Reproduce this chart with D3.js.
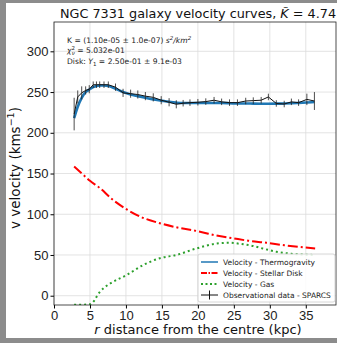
<!DOCTYPE html>
<html>
<head>
<meta charset="UTF-8">
<style>
  body { margin: 0; background: #8c8c8c; }
  svg { display: block; font-family: "DejaVu Sans", sans-serif; }
  .grid line { stroke: #dcdcdc; stroke-width: 0.8px; }
  .tick text { font-size: 13px; fill: #222; }
</style>
</head>
<body>
<svg id="chart" width="337" height="343"></svg>
<script src="https://d3js.org/d3.v7.min.js"></script>
<script>

// observational data - SPARCS
const obsR = [2.8, 3.3, 3.85, 4.4, 4.9, 5.45, 5.9, 6.35, 6.95, 7.55, 8.55, 9.6, 10.65, 11.65, 12.7, 13.8, 14.9, 16.0, 17.0,
              17.95, 18.9, 20.0, 21.1, 22.25, 23.3, 24.4, 25.5, 26.65, 27.7, 28.8, 29.8, 30.9, 32.0, 33.0, 34.0, 35.15, 36.2];
const obsV = [223, 244, 249, 252, 253.5, 259, 259, 259, 259, 259, 256, 249, 248, 247, 245, 243.5, 240, 237.5, 235,
              236.3, 237, 237.5, 238.3, 240, 238, 237, 237, 239, 239.5, 240, 244, 236, 235.3, 238, 237, 241, 239];
const obsErr = [20, 8, 8, 5, 5, 4, 4, 4, 4, 4, 4.5, 5, 5, 5, 5, 5, 5, 5, 5,
                4, 4, 4, 4, 4, 4, 4, 4, 4, 4, 4, 4, 4, 4, 4, 4, 7, 11];

// thermogravity model
const thermoV = [218, 232, 243, 250, 253, 256, 257.5, 258, 258, 257.5, 254, 250, 247, 245, 243, 241, 239.5, 238, 237,
                 236.5, 236.5, 236.5, 236.5, 236.5, 236.5, 236.3, 236, 236, 235.8, 235.7, 235.7, 235.8, 236, 236.3, 236.7, 237.2, 237.8];

// stellar disk
const diskR = [2.8, 4, 5, 6.4, 8, 10.1, 12, 14.7, 17, 20.3, 22.5, 24.9, 27, 29.5, 32, 34, 36.3];
const diskV = [158.5, 149, 141, 132, 119, 106, 97, 89, 84, 78.6, 74, 70.5, 67.5, 65, 62, 60, 58];

// gas
const gasR = [2.8, 4, 5, 5.6, 6.0, 6.4, 7, 7.8, 10.1, 12.4, 14.7, 17, 19.8, 22.6, 24.4, 26, 27.7, 29, 30.9, 33, 36.2];
const gasV = [-11, -11, -10.5, -6, 0, 5, 10, 15, 25.4, 37.7, 46, 50, 58, 64, 65, 63.5, 61, 58, 54, 51.5, 50];

const xTicks = [0, 5, 10, 15, 20, 25, 30, 35];
const yTicks = [0, 50, 100, 150, 200, 250, 300];

const legendLabels = ["Velocity - Thermogravity", "Velocity - Stellar Disk", "Velocity - Gas", "Observational data - SPARCS"];

let svg = d3.select("#chart");

// white figure area on the grey frame
svg.append("rect").attr("x", 6).attr("y", 3).attr("width", 331).attr("height", 335).attr("fill", "white");

let pLeft = 54, pRight = 336, pTop = 22, pBottom = 305;

let x = d3.scaleLinear().domain([0, 39.2]).range([pLeft, pRight]);
let y = d3.scaleLinear().domain([-11.4, 336]).range([pBottom, pTop]);

svg.append("defs").append("clipPath").attr("id", "plotclip")
  .append("rect").attr("x", pLeft).attr("y", pTop).attr("width", pRight - pLeft).attr("height", pBottom - pTop);

// grid
svg.append("g").attr("class", "grid")
  .selectAll("line").data(xTicks).enter().append("line")
  .attr("x1", d => x(d)).attr("x2", d => x(d)).attr("y1", pTop).attr("y2", pBottom);
svg.append("g").attr("class", "grid")
  .selectAll("line").data(yTicks).enter().append("line")
  .attr("y1", d => y(d)).attr("y2", d => y(d)).attr("x1", pLeft).attr("x2", pRight);

// axes
svg.append("g").attr("transform", "translate(0," + pBottom + ")")
  .call(d3.axisBottom(x).tickValues(xTicks).tickSize(3.5).tickPadding(2).tickFormat(d3.format("d")))
  .call(g => g.select(".domain").remove());
svg.append("g").attr("transform", "translate(" + pLeft + ",0)")
  .call(d3.axisLeft(y).tickValues(yTicks).tickSize(3.5).tickPadding(2).tickFormat(d3.format("d")))
  .call(g => g.select(".domain").remove());

let plot = svg.append("g").attr("clip-path", "url(#plotclip)");

let line = d3.line().x(d => x(d[0])).y(d => y(d[1]));
let smooth = d3.line().x(d => x(d[0])).y(d => y(d[1])).curve(d3.curveMonotoneX);

// thermogravity
plot.append("path")
  .datum(obsR.map((r, i) => [r, thermoV[i]]))
  .attr("d", smooth).attr("fill", "none")
  .attr("stroke", "#1f77b4").attr("stroke-width", 2.6);

// stellar disk
plot.append("path")
  .datum(diskR.map((r, i) => [r, diskV[i]]))
  .attr("d", smooth).attr("fill", "none")
  .attr("stroke", "#ff0000").attr("stroke-width", 2)
  .attr("stroke-dasharray", "10,3,2,3");

// gas
plot.append("path")
  .datum(gasR.map((r, i) => [r, gasV[i]]))
  .attr("d", smooth).attr("fill", "none")
  .attr("stroke", "#2ca02c").attr("stroke-width", 2)
  .attr("stroke-dasharray", "2,3");

// observational data with error bars
plot.append("path")
  .datum(obsR.map((r, i) => [r, obsV[i]]))
  .attr("d", line).attr("fill", "none")
  .attr("stroke", "#111").attr("stroke-width", 1);
plot.append("g").selectAll("line").data(obsR).enter().append("line")
  .attr("x1", d => x(d)).attr("x2", d => x(d))
  .attr("y1", (d, i) => y(obsV[i] - obsErr[i]))
  .attr("y2", (d, i) => y(obsV[i] + obsErr[i]))
  .attr("stroke", "#222").attr("stroke-opacity", 0.8).attr("stroke-width", 1);

// frame
svg.append("rect").attr("x", pLeft).attr("y", pTop).attr("width", pRight - pLeft).attr("height", pBottom - pTop)
  .attr("fill", "none").attr("stroke", "#222").attr("stroke-width", 0.8);

// title
let title = svg.append("text").attr("x", 198).attr("y", 18).attr("text-anchor", "middle")
  .attr("font-size", 12.8).attr("fill", "#111");
title.append("tspan").text("NGC 7331 galaxy velocity curves, ");
title.append("tspan").attr("font-style", "italic").text("K\u0303");
title.append("tspan").text(" = 4.74");

// annotation
let ann = svg.append("g").attr("font-size", 7.6).attr("fill", "#222");
let a1 = ann.append("text").attr("x", 67).attr("y", 43);
a1.append("tspan").text("K = (1.10e-05 \u00b1 1.0e-07) ");
a1.append("tspan").attr("font-style", "italic").text("s");
a1.append("tspan").attr("font-size", 5.5).attr("dy", -3).attr("font-style", "italic").text("2");
a1.append("tspan").attr("dy", 3).attr("font-style", "italic").text("/km");
a1.append("tspan").attr("font-size", 5.5).attr("dy", -3).attr("font-style", "italic").text("2");
let a2 = ann.append("text").attr("x", 67).attr("y", 53);
a2.append("tspan").attr("font-style", "italic").text("\u03c7");
a2.append("tspan").attr("font-size", 5.5).attr("dy", -3).text("2");
a2.append("tspan").attr("font-size", 5.5).attr("dx", -3.3).attr("dy", 5).attr("font-style", "italic").text("\u03bd");
a2.append("tspan").attr("dy", -2).text(" = 5.032e-01");
let a3 = ann.append("text").attr("x", 67).attr("y", 64);
a3.append("tspan").text("Disk: ");
a3.append("tspan").attr("font-style", "italic").text("\u03a5");
a3.append("tspan").attr("font-size", 5.5).attr("dy", 2).text("1");
a3.append("tspan").attr("dy", -2).text(" = 2.50e-01 \u00b1 9.1e-03");

// axis labels
let yl = svg.append("text").attr("transform", "translate(20,168) rotate(-90)")
  .attr("text-anchor", "middle").attr("font-size", 13.5).attr("fill", "#111");
yl.append("tspan").text("v velocity (kms");
yl.append("tspan").attr("font-size", 9.5).attr("dy", -6).text("\u22121");
yl.append("tspan").attr("dy", 6).text(")");

let xl = svg.append("text").attr("x", 198).attr("y", 334).attr("text-anchor", "middle")
  .attr("font-size", 13).attr("fill", "#111");
xl.append("tspan").attr("font-style", "italic").text("r");
xl.append("tspan").text(" distance from the centre (kpc)");

// legend
let lg = svg.append("g").attr("transform", "translate(198,254)");
lg.append("rect").attr("width", 137).attr("height", 48).attr("rx", 2)
  .attr("fill", "white").attr("fill-opacity", 0.85).attr("stroke", "#ccc").attr("stroke-width", 0.8);
let styles = [
  {stroke: "#1f77b4", dash: null, w: 1.5},
  {stroke: "#ff0000", dash: "6,1.5,1.5,1.5", w: 2},
  {stroke: "#2ca02c", dash: "2,2.5", w: 2},
  {stroke: "#111", dash: null, w: 1}
];
let rows = lg.selectAll("g.row").data(legendLabels).enter().append("g")
  .attr("transform", (d, i) => "translate(0," + (8 + i * 11) + ")");
rows.append("line").attr("x1", 3).attr("x2", 20).attr("y1", 0).attr("y2", 0)
  .attr("stroke", (d, i) => styles[i].stroke)
  .attr("stroke-width", (d, i) => styles[i].w)
  .attr("stroke-dasharray", (d, i) => styles[i].dash);
rows.filter((d, i) => i === 3).append("line")
  .attr("x1", 11.5).attr("x2", 11.5).attr("y1", -4.5).attr("y2", 4.5)
  .attr("stroke", "#111").attr("stroke-width", 1);
rows.append("text").attr("x", 25).attr("y", 2.7).attr("font-size", 7.5).attr("fill", "#222")
  .text(d => d);

</script>
</body>
</html>
